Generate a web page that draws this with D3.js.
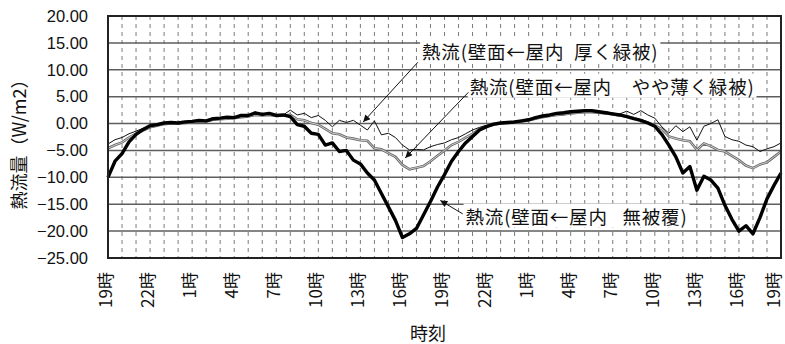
<!DOCTYPE html>
<html><head><meta charset="utf-8">
<script src="https://cdn.jsdelivr.net/npm/d3@7"></script>
<style>
body{margin:0;background:#fff;}
svg{display:block;}
</style></head>
<body>
<svg id="chart" width="785" height="344"></svg>
<script>
// Hours since 19:00 on day 1, half-hour steps (0 .. 48)
const hours = d3.range(0, 48.5, 0.5);
const tickHours = [0,3,6,9,12,15,18,21,24,27,30,33,36,39,42,45,48];
const tickLabels = ["19時","22時","1時","4時","7時","10時","13時","16時","19時","22時","1時","4時","7時","10時","13時","16時","19時"];
const yTicks = [20,15,10,5,0,-5,-10,-15,-20,-25];

// 熱流（壁面←屋内 無被覆）
const bare = [-10.0,-7.0,-5.6,-3.4,-2.0,-1.1,-0.4,-0.2,0.1,0.2,0.1,0.3,0.4,0.6,0.5,0.9,1.0,1.2,1.1,1.5,1.5,2.0,1.7,1.9,1.5,1.6,1.3,-0.2,-0.5,-1.8,-2.0,-4.0,-3.6,-5.2,-5.0,-6.8,-7.5,-9.2,-10.5,-13.0,-15.5,-18.0,-21.2,-20.5,-19.5,-17.0,-14.5,-11.8,-9.5,-7.0,-5.2,-3.6,-2.4,-1.2,-0.6,-0.1,0.1,0.2,0.3,0.5,0.7,1.1,1.4,1.6,1.9,2.0,2.2,2.3,2.4,2.4,2.2,2.0,1.8,1.6,1.3,0.9,0.6,0.1,-0.5,-2.0,-4.0,-6.2,-9.2,-8.0,-12.4,-9.8,-10.5,-12.0,-15.2,-17.8,-20.0,-19.0,-20.5,-17.5,-14.0,-11.5,-9.2];
// 熱流（壁面←屋内 厚く緑被）
const thick = [-3.8,-3.0,-2.6,-1.9,-1.4,-0.9,-0.5,-0.3,0.0,0.1,0.1,0.2,0.3,0.5,0.5,0.8,0.9,1.0,1.1,1.3,1.4,1.8,1.6,1.8,1.5,1.6,2.5,1.6,1.9,1.1,1.5,0.6,-0.6,0.6,0.2,0.6,-0.3,-1.2,0.5,-2.1,-1.8,-2.6,-4.0,-4.9,-4.8,-4.9,-4.3,-3.9,-3.6,-3.0,-2.6,-1.9,-1.2,-0.7,-0.3,-0.1,0.1,0.2,0.3,0.5,0.7,1.0,1.3,1.5,1.7,1.8,2.0,2.1,2.2,2.2,2.1,2.2,1.9,1.8,2.3,1.7,2.4,1.6,1.0,-0.6,-1.8,-0.4,-1.5,-0.6,-3.1,-0.5,0.0,0.7,-2.4,-3.0,-3.3,-4.0,-4.3,-5.2,-4.7,-4.3,-3.6];
// 熱流（壁面←屋内 やや薄く緑被）
const thin = [-4.6,-4.0,-3.5,-2.6,-1.9,-1.3,-0.7,-0.4,-0.1,0.0,0.0,0.1,0.2,0.4,0.4,0.7,0.8,0.9,1.0,1.2,1.3,1.6,1.5,1.6,1.4,1.5,1.6,0.8,0.6,0.1,-0.2,-1.0,-1.8,-2.0,-2.6,-2.8,-3.1,-3.2,-4.6,-4.8,-5.5,-6.2,-7.7,-8.5,-8.2,-7.9,-7.0,-6.0,-5.0,-4.0,-3.4,-2.6,-1.9,-1.0,-0.5,-0.2,0.0,0.1,0.2,0.4,0.6,0.9,1.2,1.4,1.6,1.7,1.9,2.0,2.1,2.1,2.0,1.9,1.7,1.5,1.3,1.0,0.6,0.2,-0.4,-1.0,-2.4,-2.8,-3.1,-3.3,-4.9,-3.7,-4.2,-4.9,-5.2,-6.0,-6.8,-7.8,-8.3,-7.6,-7.2,-6.2,-5.2];

// annotation labels (positions in data units: hours, W/m2)
const annTexts = ["熱流(壁面←屋内  厚く緑被)","熱流(壁面←屋内    やや薄く緑被)","熱流(壁面←屋内   無被覆)"];
const annTextPos = [[22.4,13.3],[25.8,6.75],[25.5,-17.4]];
const annFrom = [[22.1,11.4],[25.7,5.8],[25.3,-16.8]];
const annTo = [[18.2,0.3],[21.2,-6.4],[23.7,-14.3]];

const svg = d3.select("#chart");
const L=108, R=781, T=16, B=258;
const x = d3.scaleLinear().domain([0,48]).range([L,R]);
const y = d3.scaleLinear().domain([-25,20]).range([B,T]);
const numFont = "'Liberation Sans', Arial, sans-serif";
const jpFont = "'Noto Sans CJK JP', sans-serif";

// vertical dashed grid (every hour)
svg.append("g").selectAll("line").data(d3.range(1,48)).join("line")
  .attr("x1",d=>x(d)).attr("x2",d=>x(d)).attr("y1",T).attr("y2",B)
  .attr("stroke","#7a7a7a").attr("stroke-width",1).attr("stroke-dasharray","4,4");
// horizontal grid
svg.append("g").selectAll("line").data(yTicks.slice(1,-1)).join("line")
  .attr("x1",L).attr("x2",R).attr("y1",d=>y(d)).attr("y2",d=>y(d))
  .attr("stroke","#5e5e5e").attr("stroke-width",1.5);

// y axis labels
const yAxis = d3.axisLeft(y).tickValues(yTicks).tickFormat(d3.format(".2f")).tickSize(0).tickPadding(20);
const gy = svg.append("g").attr("transform",`translate(${L},0)`).call(yAxis);
gy.select(".domain").remove();
gy.selectAll("text").attr("font-family",numFont).attr("font-size",16.5).attr("fill","#111");

// x axis labels
const gx = svg.append("g").attr("transform",`translate(0,${B})`);
gx.selectAll("text").data(tickHours).join("text")
  .attr("transform",(d)=>`translate(${Math.min(x(d)-2, 774)},${14}) rotate(-90)`)
  .attr("text-anchor","end").attr("dy","0.35em")
  .attr("font-family",jpFont).attr("font-size",17).attr("fill","#111")
  .text((d,i)=>tickLabels[i]);

// series
const line = d3.line().x((d,i)=>x(hours[i])).y(d=>y(d));
const plot = svg.append("g");
plot.append("path").datum(thin).attr("d",line).attr("fill","none").attr("stroke","#6a6a6a").attr("stroke-width",2.6);
plot.append("path").datum(thin).attr("d",line).attr("fill","none").attr("stroke","#d8d8d8").attr("stroke-width",0.9);
plot.append("path").datum(thick).attr("d",line).attr("fill","none").attr("stroke","#111").attr("stroke-width",1);
plot.append("path").datum(bare).attr("d",line).attr("fill","none").attr("stroke","#000").attr("stroke-width",3.4).attr("stroke-linejoin","round");

// frame
svg.append("rect").attr("x",L).attr("y",T).attr("width",R-L).attr("height",B-T)
  .attr("fill","none").attr("stroke","#222").attr("stroke-width",2);

// arrowhead
svg.append("defs").append("marker").attr("id","ah").attr("viewBox","0 0 10 10")
  .attr("refX",10).attr("refY",5).attr("markerWidth",9).attr("markerHeight",7)
  .attr("markerUnits","userSpaceOnUse").attr("orient","auto")
  .append("path").attr("d","M0,0L10,5L0,10z").attr("fill","#111");

// annotations
annTexts.forEach((t,i)=>{
  const g = svg.append("g");
  const tx = g.append("text").attr("x",x(annTextPos[i][0])).attr("y",y(annTextPos[i][1]))
    .attr("dy","0.35em").attr("font-family",jpFont).attr("font-size",18.5).attr("letter-spacing","0.8px").attr("fill","#111")
    .attr("xml:space","preserve").style("white-space","pre").text(t);
  const bb = tx.node().getBBox();
  g.insert("rect","text").attr("x",bb.x-2).attr("y",bb.y+1).attr("width",bb.width+4).attr("height",bb.height-2).attr("fill","#fff");
  svg.append("line").attr("x1",x(annFrom[i][0])).attr("y1",y(annFrom[i][1]))
    .attr("x2",x(annTo[i][0])).attr("y2",y(annTo[i][1]))
    .attr("stroke","#111").attr("stroke-width",1).attr("marker-end","url(#ah)");
});

// axis titles
svg.append("text").attr("transform",`translate(20,${140}) rotate(-90)`).attr("text-anchor","middle")
  .attr("dy","0.35em").attr("font-family",jpFont).attr("font-size",18).attr("fill","#111").text("熱流量（W/m2）");
svg.append("text").attr("x",428).attr("y",334).attr("text-anchor","middle")
  .attr("dy","0.35em").attr("font-family",jpFont).attr("font-size",18).attr("fill","#111").text("時刻");
</script>
</body></html>
